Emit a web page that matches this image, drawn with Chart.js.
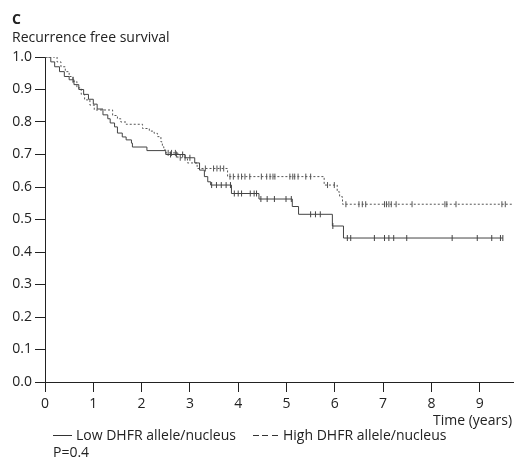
<!DOCTYPE html>
<html>
<head>
<meta charset="utf-8">
<script src="https://cdn.jsdelivr.net/npm/chart.js@4.4.1/dist/chart.umd.min.js"></script>
<style>
  body { margin: 0; background: #fff; }
  #wrap { position: relative; width: 518px; height: 470px; font-family: "Open Sans", sans-serif; color: #222; }
  #wrap canvas { position: absolute; left: 0; top: 0; }
  .txt { position: absolute; font-size: 14px; line-height: 16px; white-space: nowrap; }
  .sample { position: absolute; height: 1px; }
</style>
</head>
<body>
<div id="wrap">
  <canvas id="km" width="518" height="470"></canvas>
  <div class="txt" style="left:12px;top:11px;font-weight:bold;">C</div>
  <div class="txt" style="left:12px;top:29px;">Recurrence free survival</div>
  <div class="txt" style="left:433px;top:412px;">Time (years)</div>
  <div class="sample" style="left:53px;top:435px;width:19px;background:#333;"></div>
  <div class="txt" style="left:76px;top:427px;">Low DHFR allele/nucleus</div>
  <div class="sample" style="left:253px;top:435px;width:25px;background:repeating-linear-gradient(to right,#333 0 6px,transparent 6px 9.5px);"></div>
  <div class="txt" style="left:283px;top:427px;">High DHFR allele/nucleus</div>
  <div class="txt" style="left:53px;top:444px;">P=0.4</div>
</div>
<script>
// Kaplan-Meier steps (time in years, survival after the drop)
const lowTimes = [0, 0.12, 0.2, 0.3, 0.4, 0.5, 0.6, 0.7, 0.8, 0.9, 1.0, 1.08, 1.2, 1.3, 1.35, 1.44, 1.5, 1.6, 1.68, 1.79, 1.81, 2.11, 2.5, 2.9, 3.1, 3.2, 3.3, 3.37, 3.43, 3.86, 4.43, 5.12, 5.25, 5.95, 6.18, 9.48];
const lowSurv  = [1.0, 0.985, 0.97, 0.955, 0.94, 0.93, 0.915, 0.9, 0.885, 0.87, 0.855, 0.84, 0.822, 0.81, 0.797, 0.785, 0.766, 0.754, 0.745, 0.735, 0.723, 0.712, 0.70, 0.69, 0.674, 0.652, 0.632, 0.616, 0.606, 0.58, 0.563, 0.54, 0.516, 0.48, 0.443, 0.443];
const lowCensor = [0.58, 2.6, 2.72, 2.85, 3.0, 3.45, 3.55, 3.65, 3.75, 3.84, 3.92, 4.0, 4.07, 4.25, 4.33, 4.38, 4.47, 4.6, 4.75, 4.99, 5.1, 5.5, 5.6, 5.7, 5.96, 6.26, 6.33, 6.82, 7.03, 7.12, 7.22, 7.49, 8.43, 8.95, 9.25, 9.43, 9.48];

const highTimes = [0, 0.25, 0.33, 0.42, 0.5, 0.58, 0.66, 0.75, 0.82, 0.93, 1.02, 1.40, 1.5, 1.57, 1.68, 2.02, 2.16, 2.26, 2.33, 2.40, 2.43, 2.46, 2.5, 2.75, 2.95, 3.15, 3.78, 5.78, 6.05, 6.1, 6.16, 9.75];
const highSurv  = [1.0, 0.985, 0.97, 0.955, 0.94, 0.925, 0.905, 0.885, 0.868, 0.852, 0.837, 0.82, 0.81, 0.80, 0.793, 0.78, 0.772, 0.765, 0.755, 0.739, 0.724, 0.714, 0.705, 0.69, 0.674, 0.657, 0.632, 0.606, 0.585, 0.57, 0.547, 0.547];
const highCensor = [2.55, 2.62, 2.7, 2.8, 2.9, 3.32, 3.49, 3.56, 3.63, 3.7, 3.83, 3.9, 4.0, 4.07, 4.14, 4.24, 4.48, 4.59, 4.66, 4.72, 4.76, 5.07, 5.13, 5.17, 5.24, 5.4, 5.5, 5.85, 5.99, 6.23, 6.5, 6.57, 6.64, 7.03, 7.07, 7.12, 7.17, 7.27, 7.6, 8.28, 8.32, 8.51, 9.46, 9.53];

const xTicks = [0, 1, 2, 3, 4, 5, 6, 7, 8, 9];
const yTicks = [0, 0.1, 0.2, 0.3, 0.4, 0.5, 0.6, 0.7, 0.8, 0.9, 1.0];

function survAt(times, surv, t) {
  let s = surv[0];
  for (let i = 0; i < times.length; i++) {
    if (times[i] <= t) s = surv[i];
  }
  return s;
}

const steps = (times, surv) => times.map((t, i) => ({ x: t, y: surv[i] }));
const marks = (cens, times, surv) => cens.map(t => ({ x: t, y: survAt(times, surv, t) }));

const tickFont = { family: "'Open Sans', sans-serif", size: 14 };

new Chart(document.getElementById('km'), {
  type: 'line',
  data: {
    datasets: [
      { data: steps(lowTimes, lowSurv), stepped: true, borderColor: '#444', borderWidth: 1, pointRadius: 0 },
      { data: steps(highTimes, highSurv), stepped: true, borderColor: '#555', borderWidth: 1, borderDash: [2, 2], pointRadius: 0 },
      { type: 'scatter', data: marks(lowCensor, lowTimes, lowSurv), showLine: false, pointStyle: 'line', rotation: 90, pointRadius: 3, borderColor: '#444', borderWidth: 1 },
      { type: 'scatter', data: marks(highCensor, highTimes, highSurv), showLine: false, pointStyle: 'line', rotation: 90, pointRadius: 3, borderColor: '#555', borderWidth: 1 }
    ]
  },
  options: {
    responsive: false,
    animation: false,
    devicePixelRatio: 1,
    layout: { padding: { top: 57, right: 1, bottom: 58, left: 0 } },
    plugins: { legend: { display: false }, tooltip: { enabled: false } },
    scales: {
      x: {
        type: 'linear', min: 0, max: 9.69,
        afterBuildTicks: s => { s.ticks = xTicks.map(v => ({ value: v })); },
        afterFit: s => { s.height = 30; },
        ticks: { color: '#222', font: tickFont, padding: 4, maxRotation: 0 },
        grid: { drawOnChartArea: false, drawTicks: true, tickLength: 10, color: '#222' },
        border: { color: '#222' }
      },
      y: {
        min: 0, max: 1,
        afterBuildTicks: s => { s.ticks = yTicks.map(v => ({ value: v })); },
        afterFit: s => { s.width = 45; },
        ticks: { color: '#222', font: tickFont, padding: 3, callback: v => v.toFixed(1) },
        grid: { drawOnChartArea: false, drawTicks: true, tickLength: 10, color: '#222' },
        border: { color: '#222' }
      }
    }
  }
});
</script>
</body>
</html>
